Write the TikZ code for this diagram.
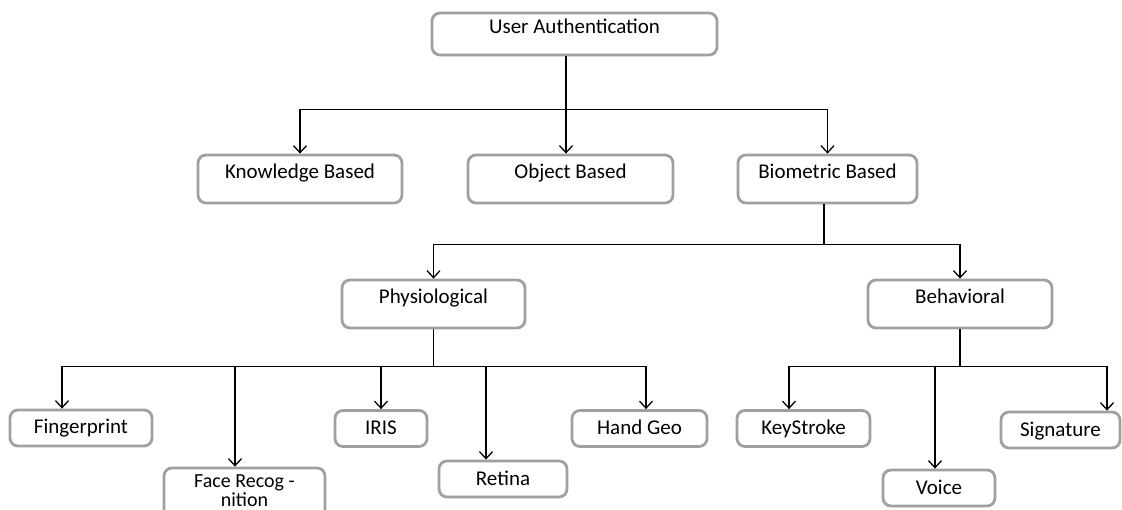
\documentclass[tikz,border=0pt]{standalone}
\usepackage{fontspec}
\setmainfont{Carlito}
\usetikzlibrary{arrows.meta}
\definecolor{boxgray}{RGB}{160,160,160}
\begin{document}
\begin{tikzpicture}[x=1pt,y=-1pt,
	box/.style={draw=boxgray,line width=2.8pt,rounded corners=8pt,inner xsep=2pt,inner ysep=9pt,text height=15pt,font=\fontsize{21}{21}\selectfont},
	bigbox/.style={box,text depth=15pt},
	smallbox/.style={box,text depth=3pt},
	link/.style={line width=1.3pt},
	arr/.style={link,-{Straight Barb[length=7pt,width=13pt]}}]
	\useasboundingbox (0,0) rectangle (1122,510);
	\node[box,inner ysep=6pt,text depth=15pt,minimum width=285pt] (user) at (574.5,34) {User Authentication};
	\node[bigbox,minimum width=204pt] (know) at (300,179) {Knowledge Based};
	\node[bigbox,minimum width=205pt] (obj) at (570.5,179) {Object Based};
	\node[bigbox,minimum width=179pt] (bio) at (827.5,179) {Biometric Based};
	\node[bigbox,minimum width=183pt] (phys) at (433.5,304) {Physiological};
	\node[bigbox,minimum width=184pt] (beh) at (960,304) {Behavioral};
	\node[smallbox,minimum width=142pt] (finger) at (81,428) {Fingerprint};
	\node[smallbox,font=\fontsize{20}{20}\selectfont,inner ysep=6pt,text height=13pt,text depth=35pt,minimum width=161pt] (face) at (244.5,498) {\begin{tabular}[t]{@{}c@{}}Face Recog -\\[-1pt]nition\end{tabular}};
	\node[smallbox,minimum width=92pt] (iris) at (381,428.5) {IRIS};
	\node[smallbox,minimum width=128pt] (retina) at (503,479) {Retina};
	\node[smallbox,minimum width=135pt] (hand) at (639.5,428.5) {Hand Geo};
	\node[smallbox,minimum width=133pt] (key) at (803.5,428.5) {KeyStroke};
	\node[smallbox,minimum width=112pt] (voice) at (939,488) {Voice};
	\node[smallbox,minimum width=119pt] (sign) at (1060.5,430) {Signature};

	\draw[link] ([xshift=-8.5pt]user.south) -- ++(0,53) coordinate (topbar);
	\draw[arr] (topbar) -| (know.north);
	\draw[arr] (topbar) -- (topbar |- obj.north);
	\draw[arr] (topbar) -| (bio.north);
	\draw[link] ([xshift=-3.5pt]bio.south) -- ++(0,40) coordinate (biobar);
	\draw[arr] (biobar) -| (phys.north);
	\draw[arr] (biobar) -| (beh.north);
	\draw[link] (phys.south) -- ++(0,37) coordinate (physbar);
	\foreach \n/\s in {finger/-19,face/-9.5,iris/0,retina/-17,hand/6.5}
		\draw[arr] (physbar) -| ([xshift=\s pt]\n.north);
	\draw[link] (beh.south) -- ++(0,37) coordinate (behbar);
	\foreach \n/\s in {key/-14.5,voice/-4,sign/46.5}
		\draw[arr] (behbar) -| ([xshift=\s pt]\n.north);
\end{tikzpicture}
\end{document}
